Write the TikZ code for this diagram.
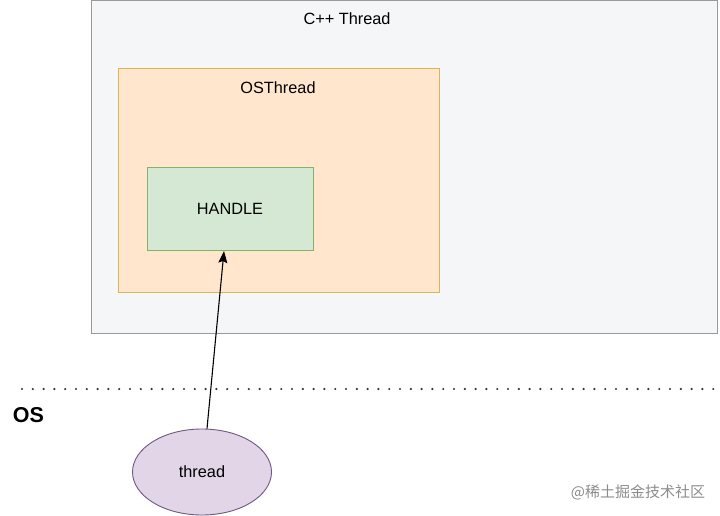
\documentclass[tikz,border=0pt]{standalone}
\usepackage{fontspec}
\setmainfont{Liberation Sans}
\newfontfamily\cjk{Noto Sans CJK SC}
\usetikzlibrary{shapes.geometric,arrows.meta}
\definecolor{outerfill}{HTML}{F5F6F8}
\definecolor{outerdraw}{HTML}{9A9A9A}
\definecolor{osfill}{HTML}{FFE6CC}
\definecolor{osdraw}{HTML}{D6B656}
\definecolor{hfill}{HTML}{D5E8D4}
\definecolor{hdraw}{HTML}{82B366}
\definecolor{efill}{HTML}{E1D5E7}
\definecolor{edraw}{HTML}{6E5A80}
\tikzset{
  lbl/.style={font=\fontsize{16.3}{18}\selectfont, text=black, inner sep=0pt},
}
\begin{document}
\begin{tikzpicture}[x=1pt,y=-1pt]
\useasboundingbox (0,0) rectangle (720,516);
\fill[white] (0,0) rectangle (720,516);
% outer box
\draw[fill=outerfill, draw=outerdraw, line width=1pt] (91,0.5) rectangle (717,333);
\node[lbl] (cpp) at (347,19) {C++ Thread};
% OSThread
\draw[fill=osfill, draw=osdraw, line width=1pt] (118,69) rectangle (439,292);
\node[lbl] (ost) at (278,88) {OSThread};
% HANDLE
\node[draw=hdraw, fill=hfill, line width=1pt, minimum width=166pt, minimum height=83pt, inner sep=0pt, font=\fontsize{16.3}{18}\selectfont] (handle) at (230,208.5) {HANDLE};
% dotted separator
\coordinate (dl) at (22,389);
\coordinate (dr) at (716,389);
\draw[line width=2.4pt, line cap=round, dash pattern=on 0pt off 10.8pt, color=black!80] (dl) -- (dr);
\node[font=\bfseries\fontsize{21.5}{24}\selectfont, inner sep=0pt] (os) at (28.5,415) {OS};
% thread ellipse
\node[ellipse, draw=edraw, fill=efill, line width=0.9pt, minimum width=139pt, minimum height=86pt, inner sep=0pt, font=\fontsize{16.3}{18}\selectfont] (thr) at (202,472) {thread};
% arrow
\coordinate (hb) at (224,251);
\draw[line width=1.1pt, -{Stealth[length=12pt,width=9pt,inset=2pt]}] (thr.north) ++(5,0) coordinate (ts) (ts) -- (hb);
% watermark
\node[font=\cjk\fontsize{15}{17}\selectfont, text=black!45, inner sep=0pt] (wm) at (638,492) {@稀土掘金技术社区};
\end{tikzpicture}
\end{document}
